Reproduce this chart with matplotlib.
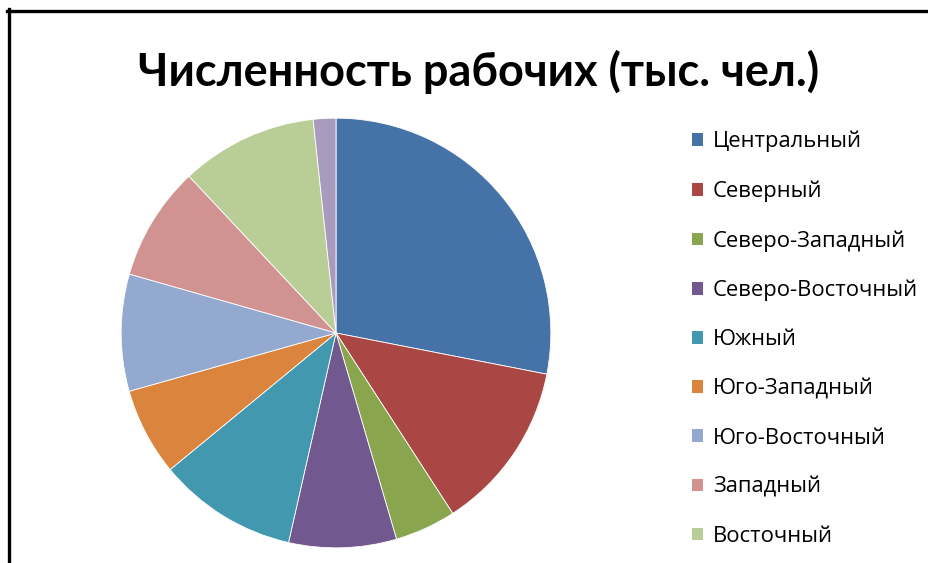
import matplotlib.pyplot as plt
from matplotlib.lines import Line2D
from matplotlib.patches import Patch

# Численность рабочих по регионам, тыс. чел.
regions = ['Центральный', 'Северный', 'Северо-Западный', 'Северо-Восточный',
           'Южный', 'Юго-Западный', 'Юго-Восточный', 'Западный', 'Восточный',
           'Прочие']
workers = [281, 128, 46, 81, 105, 66, 88, 86, 103, 17]
colors = ['#4572A7', '#AA4643', '#89A54E', '#71588F', '#4198AF',
          '#DB843D', '#93A9CF', '#D19392', '#B9CD96', '#A99BBD']
# в легенде помещаются только первые девять регионов
legend_count = 9

W, H = 929, 563
fig = plt.figure(figsize=(W / 100, H / 100), dpi=100)
fig.patch.set_facecolor('white')

# круговая диаграмма: центр (336, 333) px, радиус 217 px
cx, cy, r = 336, 333, 217
ax = fig.add_axes([(cx - r) / W, (H - cy - r) / H, 2 * r / W, 2 * r / H])
wedges, _ = ax.pie(workers, colors=colors, startangle=90, counterclock=False,
                   radius=1.0, wedgeprops=dict(edgecolor='white', linewidth=0.6))
ax.set_xlim(-1.01, 1.01)
ax.set_ylim(-1.01, 1.01)
ax.set_aspect('equal')
ax.axis('off')

fig.text(479 / W, 1 - 72 / H, 'Численность рабочих (тыс. чел.)',
         ha='center', va='center', fontsize=32.5, fontweight='bold',
         family=['Lato', 'DejaVu Sans'], color='black')

handles = [Patch(facecolor=colors[i], edgecolor='none') for i in range(legend_count)]
fig.legend(handles, regions[:legend_count], loc='upper left',
           bbox_to_anchor=(692 / W, 1 - 131 / H), frameon=False,
           handlelength=0.5, handleheight=0.5, handletextpad=0.45,
           labelspacing=1.28, borderaxespad=0, borderpad=0,
           prop=dict(family=['Open Sans', 'DejaVu Sans'], size=15.8))

# рамка области диаграммы (верх и левый край)
fig.add_artist(Line2D([8.5 / W, 8.5 / W], [0, 1 - 9 / H], color='black',
                      linewidth=2.4, transform=fig.transFigure))
fig.add_artist(Line2D([7.3 / W, 1], [1 - 10.5 / H, 1 - 10.5 / H], color='black',
                      linewidth=2.4, transform=fig.transFigure))

fig.savefig('out.png', dpi=100, facecolor='white')
